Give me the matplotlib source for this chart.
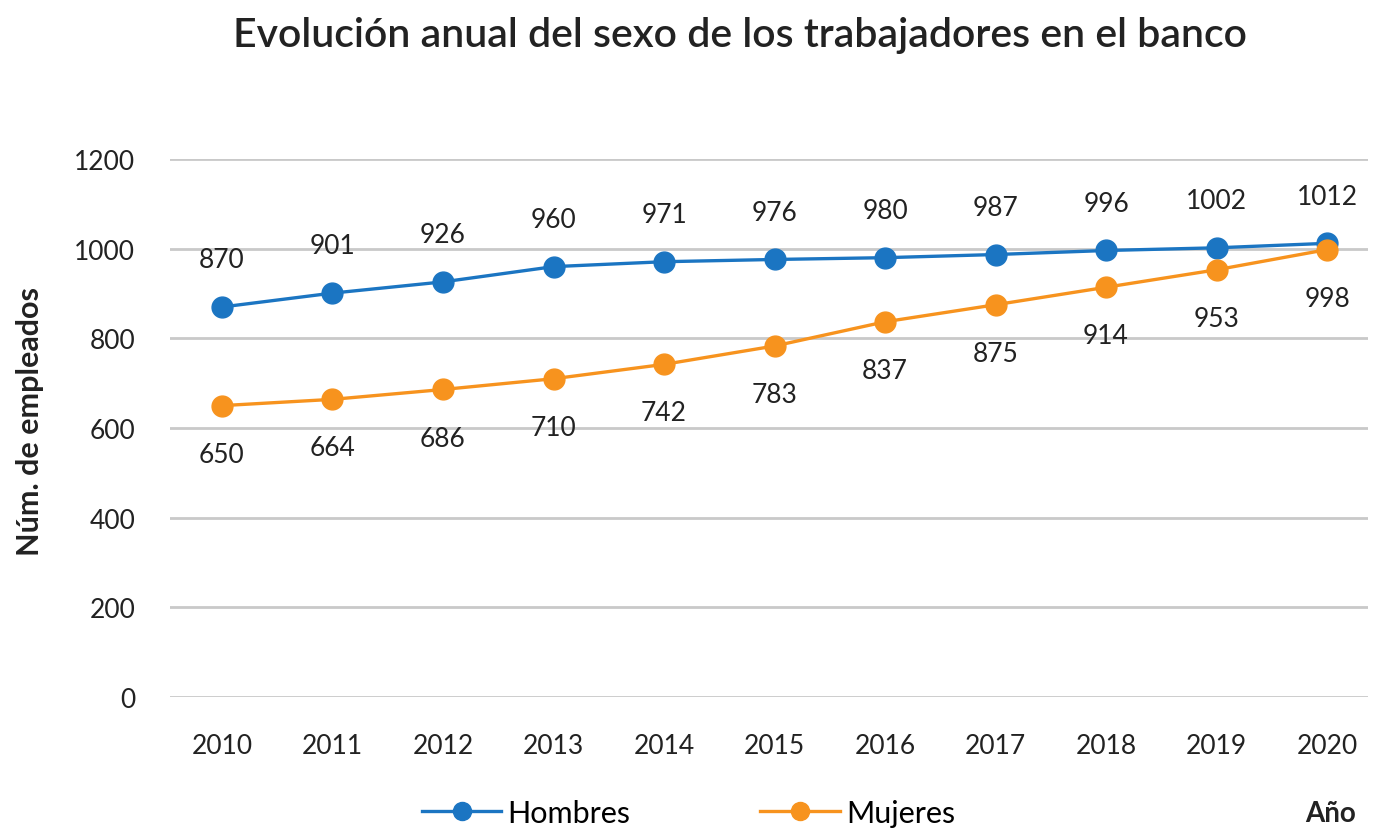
import numpy as np
import matplotlib.pyplot as plt
from matplotlib.lines import Line2D

years = [2010, 2011, 2012, 2013, 2014, 2015, 2016, 2017, 2018, 2019, 2020]
hombres = [870, 901, 926, 960, 971, 976, 980, 987, 996, 1002, 1012]
mujeres = [650, 664, 686, 710, 742, 783, 837, 875, 914, 953, 998]
yticks = [0, 200, 400, 600, 800, 1000, 1200]

azul = "#1b75c2"
naranja = "#f7931e"
texto = "#222222"
fuente = "Lato"

fig = plt.figure(figsize=(13.78, 8.37), dpi=100)
ax = fig.add_axes([0.1234, 0.166, 0.8693, 0.6428])

ax.plot(years, hombres, color=azul, lw=2.4, marker="o", ms=15, zorder=3)
ax.plot(years, mujeres, color=naranja, lw=2.4, marker="o", ms=15, zorder=3)

# etiquetas de valores: hombres encima, mujeres debajo
for x, v in zip(years, hombres):
    ax.annotate(str(v), (x, v), xytext=(0, 34), textcoords="offset points",
                ha="center", va="center", fontsize=19, family=fuente,
                color=texto)
for x, v in zip(years, mujeres):
    ax.annotate(str(v), (x, v), xytext=(0, -35), textcoords="offset points",
                ha="center", va="center", fontsize=19, family=fuente,
                color=texto)

ax.set_xlim(2009.53, 2020.37)
ax.set_ylim(0, 1200)
ax.set_yticks(yticks)
ax.set_xticks(years)
ax.grid(axis="y", color="#c9c9c9", lw=2)
ax.set_axisbelow(True)
for s in ax.spines.values():
    s.set_visible(False)
ax.tick_params(length=0)
ax.tick_params(axis="y", pad=25)
ax.tick_params(axis="x", pad=26)
for lab in ax.get_xticklabels() + ax.get_yticklabels():
    lab.set_fontsize(19)
    lab.set_family(fuente)
    lab.set_color(texto)

fig.text(0.022, 0.496, "Núm. de empleados", rotation=90, ha="center",
         va="center", fontsize=22, fontweight="bold", family=fuente,
         color=texto)

fig.text(0.537, 0.958, "Evolución anual del sexo de los trabajadores en el banco",
         ha="center", va="center", fontsize=29.5, fontweight="semibold",
         family=fuente, color=texto)

handles = [Line2D([], [], color=azul, lw=2.4, marker="o", ms=13),
           Line2D([], [], color=naranja, lw=2.4, marker="o", ms=13)]
fig.legend(handles, ["Hombres", "Mujeres"], loc="center",
           bbox_to_anchor=(0.4996, 0.028), ncol=2, frameon=False,
           prop={"family": fuente, "size": 22}, handlelength=2.6,
           columnspacing=4.25, handletextpad=0.2)

fig.text(0.984, 0.028, "Año", ha="right", va="center", fontsize=20,
         fontweight="bold", family=fuente, color=texto)

fig.savefig("out.png", dpi=100, facecolor="white")
